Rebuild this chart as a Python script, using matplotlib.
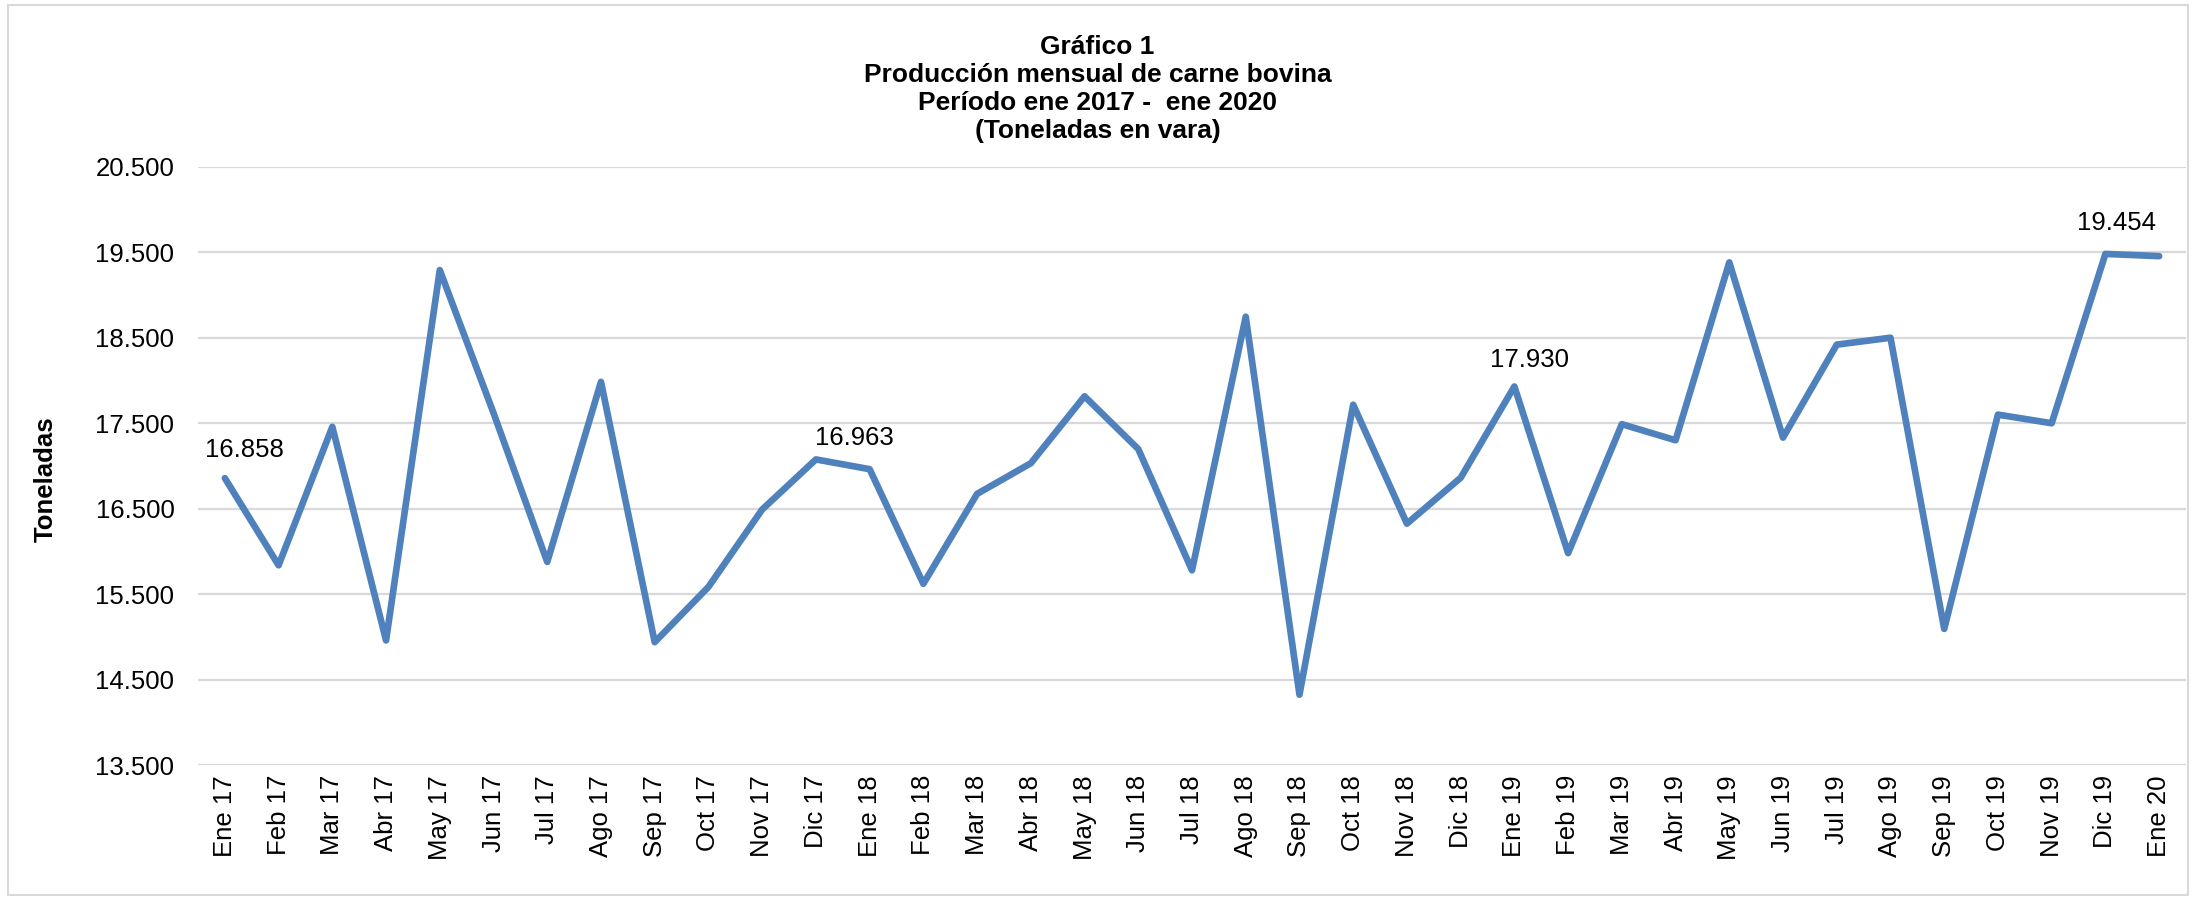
import numpy as np
import matplotlib
matplotlib.use("Agg")
import matplotlib.pyplot as plt
from matplotlib.patches import Rectangle
from matplotlib.ticker import FuncFormatter

plt.rcParams['font.family'] = ['Liberation Sans', 'DejaVu Sans']

# ── datos ────────────────────────────────────────────────────────────────
meses = ["Ene 17", "Feb 17", "Mar 17", "Abr 17", "May 17", "Jun 17", "Jul 17",
         "Ago 17", "Sep 17", "Oct 17", "Nov 17", "Dic 17",
         "Ene 18", "Feb 18", "Mar 18", "Abr 18", "May 18", "Jun 18", "Jul 18",
         "Ago 18", "Sep 18", "Oct 18", "Nov 18", "Dic 18",
         "Ene 19", "Feb 19", "Mar 19", "Abr 19", "May 19", "Jun 19", "Jul 19",
         "Ago 19", "Sep 19", "Oct 19", "Nov 19", "Dic 19",
         "Ene 20"]

toneladas = [16858, 15839, 17458, 14960, 19291, 17620, 15878,
             17984, 14940, 15586, 16491, 17077,
             16963, 15623, 16674, 17032, 17815, 17198, 15780,
             18746, 14326, 17717, 16326, 16862,
             17930, 15981, 17489, 17301, 19381, 17332, 18419,
             18500, 15095, 17601, 17500, 19480,
             19454]

# puntos con etiqueta de valor (enero de cada año)
idx_etiquetas = [0, 12, 24, 36]
desplaz_etiquetas = [(20, 28), (-15, 31), (15, 26), (-43, 33)]   # en píxeles

titulo = ("Gráfico 1\nProducción mensual de carne bovina\n"
          "Período ene 2017 -  ene 2020\n(Toneladas en vara)")

# ── figura ───────────────────────────────────────────────────────────────
W, H = 2195, 897
fig = plt.figure(figsize=(W / 100, H / 100), dpi=100)
ax = fig.add_axes([198 / W, 1 - 765.3 / H, (2186 - 198) / W, (765.3 - 166.7) / H])

x = np.arange(len(meses))
ax.plot(x, toneladas, color="#4F81BD", lw=4.8,
        solid_joinstyle="round", solid_capstyle="round", zorder=3)

for i, (dx, dy) in zip(idx_etiquetas, desplaz_etiquetas):
    ax.annotate(f"{toneladas[i]:,}".replace(",", "."), (x[i], toneladas[i]),
                xytext=(dx, dy), textcoords="offset pixels",
                ha="center", va="center", fontsize=18.5, color="black")

ax.set_xlim(-0.5, len(meses) - 0.5)
ax.set_ylim(13500, 20500)
ax.set_yticks(np.arange(13500, 20501, 1000))
ax.yaxis.set_major_formatter(FuncFormatter(lambda v, p: f"{v:,.0f}".replace(",", ".")))
ax.set_xticks(x)
ax.set_xticklabels(meses, rotation=90)

ax.tick_params(axis="y", length=0, pad=17, labelsize=18.5)
ax.tick_params(axis="x", length=0, pad=7, labelsize=18.5)
ax.grid(axis="y", color="#D9D9D9", lw=1.6)
ax.set_axisbelow(True)
for s in ax.spines.values():
    s.set_visible(False)

fig.text(0.5, 1 - 89 / H, titulo, ha="center", va="center",
         fontsize=19, fontweight="bold", linespacing=1.2)
fig.text(46 / W, 1 - 479 / H, "Toneladas", rotation=90, ha="center",
         va="center", fontsize=18.5, fontweight="bold")

# borde del área del gráfico
fig.add_artist(Rectangle((8 / W, 2 / H), (2188 - 8) / W, (892 - 2) / H,
                         transform=fig.transFigure, fill=False,
                         edgecolor="#D9D9D9", lw=1.5))

fig.savefig("out.png", dpi=100)
